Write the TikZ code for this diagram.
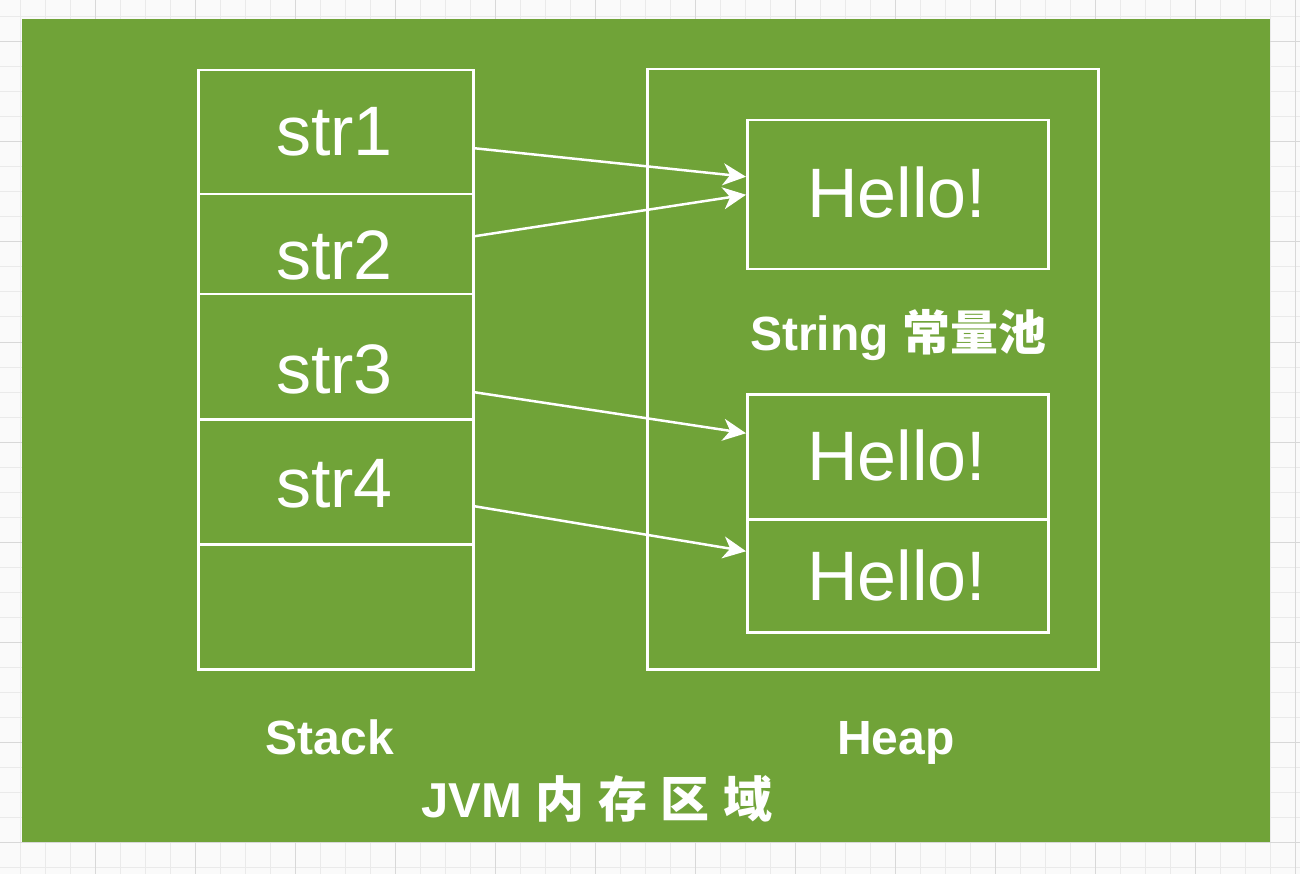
\documentclass[tikz,border=0pt]{standalone}
\usepackage{fontspec}
\setmainfont{Liberation Sans}
\newfontfamily\cjk{Noto Sans CJK SC}
\usetikzlibrary{arrows.meta}
\definecolor{bggreen}{RGB}{112,163,56}
\definecolor{gridminor}{RGB}{234,234,234}
\definecolor{gridmajor}{RGB}{216,216,216}
\definecolor{pagebg}{RGB}{250,250,250}
\begin{document}
\begin{tikzpicture}[x=1pt,y=-1pt,
  wline/.style={draw=white,line width=2.5pt},
  cell/.style={wline,minimum width=275pt,inner sep=0pt,anchor=north west},
  hbox/.style={wline,minimum width=301pt,inner sep=0pt,anchor=north west},
  bigtext/.style={text=white,inner sep=0pt,anchor=base,font=\fontsize{70}{80}\selectfont},
  lbl/.style={text=white,inner sep=0pt,anchor=base,font=\fontsize{48}{56}\selectfont\bfseries},
  arr/.style={draw=white,line width=2.5pt,-{Stealth[length=23pt,width=22pt,inset=7pt]}}]
\useasboundingbox (0,0) rectangle (1300,874);
\fill[pagebg] (0,0) rectangle (1300,874);
\foreach \x in {20,45,...,1300} \draw[gridminor,line width=1pt] (\x,0) -- (\x,874);
\foreach \y in {17,42,...,874} \draw[gridminor,line width=1pt] (0,\y) -- (1300,\y);
\foreach \x in {95,195,...,1300} \draw[gridmajor,line width=1pt] (\x,0) -- (\x,874);
\foreach \y in {42,142,...,874} \draw[gridmajor,line width=1pt] (0,\y) -- (1300,\y);
\node[fill=bggreen,inner sep=0pt,minimum width=1248pt,minimum height=823pt,anchor=north west] (frame) at (22,19) {};
% stack
\node[cell,minimum height=124pt] (s1) at (197,69) {};
\node[cell,minimum height=100pt] (s2) at (197,193) {};
\node[cell,minimum height=125pt] (s3) at (197,293) {};
\node[cell,minimum height=125pt] (s4) at (197,418) {};
\node[cell,minimum height=125pt] (s5) at (197,543) {};
\node[bigtext] (t1) at (334.5,156) {str1};
\node[bigtext] (t2) at (334.5,280) {str2};
\node[bigtext] (t3) at (334.5,393) {str3};
\node[bigtext] (t4) at (334.5,507) {str4};
% heap
\node[wline,inner sep=0pt,minimum width=451pt,minimum height=600pt,anchor=north west] (heap) at (646,68) {};
\node[hbox,minimum height=149pt] (h1) at (746,119) {};
\node[hbox,minimum height=125pt] (h2) at (746,393) {};
\node[hbox,minimum height=113pt] (h3) at (746,518) {};
\node[bigtext] (hl1) at (896.5,218) {Hello!};
\node[bigtext] (hl2) at (896.5,480) {Hello!};
\node[bigtext] (hl3) at (896.5,600) {Hello!};
\node[lbl,font=\fontsize{48}{56}\selectfont\bfseries] (pool) at (898,350) {String {\cjk 常量池}};
% labels
\node[lbl] (stack) at (330,754) {Stack};
\node[lbl] (heaplbl) at (896,754) {Heap};
\node[lbl,font=\fontsize{49}{56}\selectfont\bfseries] (jvm) at (597,817) {JVM {\cjk 内} {\cjk 存} {\cjk 区} {\cjk 域}};
% arrows
\draw[arr] ([yshift=-16pt]s1.east) -- ([yshift=18pt]h1.west);
\draw[arr] ([yshift=8pt]s2.east) -- (h1.west);
\draw[arr] ([yshift=-35.5pt]s3.east) -- ([yshift=23.5pt]h2.west);
\draw[arr] ([yshift=-24.5pt]s4.east) -- ([yshift=24.5pt]h3.west);
\end{tikzpicture}
\end{document}
